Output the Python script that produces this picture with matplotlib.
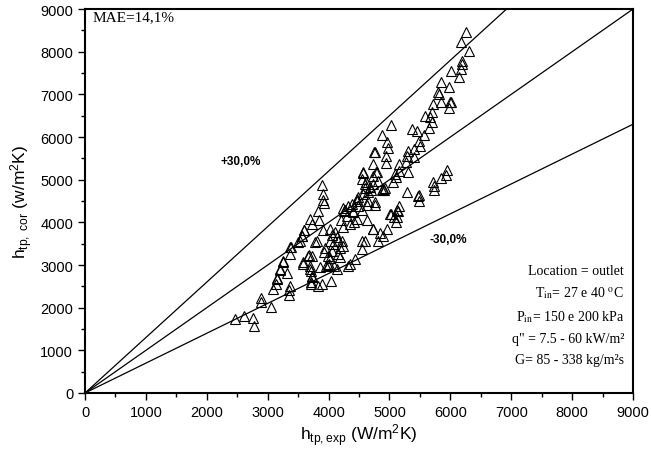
import matplotlib
matplotlib.use('Agg')
from matplotlib import pyplot as plt
from matplotlib.ticker import MultipleLocator
import numpy as np

# experimental vs correlated heat transfer coefficient (W/m2K)
h_exp = [2463, 2616, 2764, 2775, 2890, 2890, 3049, 3082, 3136, 3148,
         3202, 3311, 3256, 3350, 3350, 3366, 3366, 3503, 3558, 3596,
         3574, 3667, 3694, 3711, 3722, 3711, 3777, 3896, 3913, 3913,
         3924, 3831, 3847, 3694, 3722, 3596, 3568, 3530, 3377, 3256,
         3202, 3148, 3913, 3804, 3684, 3722, 3574, 3694, 3722, 3859,
         3957, 3941, 3995, 3711, 3886, 3366, 4022, 4049, 4105, 4203,
         4257, 4296, 4351, 4241, 4132, 4159, 4214, 4241, 4077, 4022,
         4049, 4159, 4187, 4022, 4006, 3990, 4093, 4323, 4039, 3831,
         4460, 4422, 4625, 4734, 4542, 4598, 4542, 4805, 4850, 4378,
         4460, 4487, 4569, 4652, 4680, 4734, 4816, 4734, 4789, 4569,
         4542, 4600, 4652, 4762, 4871, 4487, 4542, 4625, 4405, 4323,
         4269, 5720, 5840, 5993, 5977, 5691, 5582, 5665, 5691, 5653,
         5019, 5374, 5456, 5566, 4871, 4953, 4980, 4942, 4936, 5484,
         5500, 5407, 5309, 5402, 5281, 5270, 5156, 5161, 5298, 5090,
         5107, 5062, 4926, 4910, 5281, 5473, 5489, 5720, 5725, 5731,
         5840, 5939, 5930, 5161, 5145, 5019, 5118, 5107, 6251, 6168,
         6310, 6184, 6190, 6168, 6004, 6141, 5840, 5977, 5802, 5810,
         6004, 4750, 4723, 4559, 4614, 4592, 4700, 4460, 4241, 4400,
         4761, 4778, 4898, 4760, 5489, 5008, 5080, 4953, 4734, 4898,
         5120, 4140, 4350, 4430, 3930, 4180]
h_cor = [1735, 1812, 1750, 1563, 2220, 2140, 2009, 2438, 2555, 2688,
         2891, 2805, 3078, 2422, 2297, 3258, 3415, 3532, 3688, 3821,
         3063, 3219, 2969, 2867, 2750, 2594, 3539, 4875, 4664, 4531,
         4446, 4273, 4062, 4078, 3961, 3828, 3688, 3570, 3415, 3102,
         2906, 2672, 3813, 3570, 3235, 3219, 3024, 2906, 2711, 2946,
         2984, 3399, 3219, 2555, 2555, 2500, 3844, 3704, 3766, 4062,
         4258, 4141, 3961, 3883, 3649, 3570, 3570, 3453, 3493, 3570,
         3336, 3258, 3180, 3157, 3024, 2990, 2984, 2984, 2633, 2516,
         4078, 3999, 4062, 3844, 3570, 3570, 3375, 3570, 3750, 4430,
         4508, 4586, 4664, 4718, 4820, 4898, 4977, 5094, 5172, 5156,
         5016, 4900, 4508, 4469, 4749, 4391, 4300, 4400, 4273, 4391,
         4300, 6774, 6813, 6813, 6672, 6594, 6500, 6461, 6344, 6203,
         6282, 6188, 6149, 6047, 6047, 5891, 5735, 5563, 5400, 5914,
         5800, 5719, 5680, 5523, 5563, 5406, 5367, 5211, 5172, 5133,
         5055, 4953, 4796, 4750, 4703, 4625, 4508, 4938, 4850, 4750,
         5031, 5235, 5100, 4391, 4273, 4195, 4117, 3999, 8469, 8235,
         8009, 7790, 7700, 7594, 7540, 7415, 7298, 7181, 7049, 7000,
         6829, 5641, 5367, 5172, 4938, 4800, 4750, 4547, 4328, 4250,
         5641, 5172, 4782, 4400, 4641, 4195, 4120, 3844, 3844, 3688,
         4300, 2900, 3020, 3150, 3300, 3400]

deviation = [1.3, 1.0, 0.7]

plt.rcParams['font.family'] = ['Liberation Sans', 'DejaVu Sans']
plt.rcParams['mathtext.fontset'] = 'custom'
plt.rcParams['mathtext.rm'] = 'Liberation Sans'
plt.rcParams['mathtext.it'] = 'Liberation Sans:italic'

fig = plt.figure(figsize=(6.51, 4.56), dpi=100)
ax = fig.add_axes([0.1306, 0.136, 0.8418, 0.842])

xl = np.array([0, 9000])
for k in deviation:
    ax.plot(xl, k * xl, color='black', lw=0.9)

ax.plot(h_exp, h_cor, linestyle='none', marker='^', markersize=7,
        markerfacecolor='none', markeredgecolor='black', markeredgewidth=0.8)

ax.set_xlim(0, 9000)
ax.set_ylim(0, 9000)
ax.xaxis.set_major_locator(MultipleLocator(1000))
ax.yaxis.set_major_locator(MultipleLocator(1000))
ax.xaxis.set_minor_locator(MultipleLocator(500))
ax.yaxis.set_minor_locator(MultipleLocator(500))
ax.tick_params(which='major', direction='out', length=5, width=1, labelsize=10.5)
ax.tick_params(which='minor', direction='out', length=3, width=1)
for s in ax.spines.values():
    s.set_linewidth(1.5)

ax.set_xlabel(r'h$_{\rm tp,exp}$ (W/m$^2$K)', fontsize=12.5, labelpad=2)
ax.set_ylabel(r'h$_{\rm tp,\ cor}$ (w/m$^2$K)', fontsize=12.5, labelpad=4)

ax.text(2217, 5438, '+30,0%', fontsize=8.5, fontweight='bold', va='center')
ax.text(5665, 3610, '-30,0%', fontsize=8.5, fontweight='bold', va='center')

serif = 'Liberation Serif'
ax.text(131, 8813, 'MAE=14,1%', family=serif, fontsize=11, va='center')
info = ['Location = outlet',
        r'T$_{\mathrm{in}}$= 27 e 40 $^{\mathrm{o}}$C',
        r'P$_{\mathrm{in}}$= 150 e 200 kPa',
        'q" = 7.5 - 60 kW/m²',
        'G= 85 - 338 kg/m²s']
ys = [2870, 2360, 1800, 1280, 780]
for t, yy in zip(info, ys):
    ax.text(8850, yy, t, family=serif, fontsize=10, ha='right', va='center',
            math_fontfamily='stix')

plt.savefig('out.png', dpi=100)
